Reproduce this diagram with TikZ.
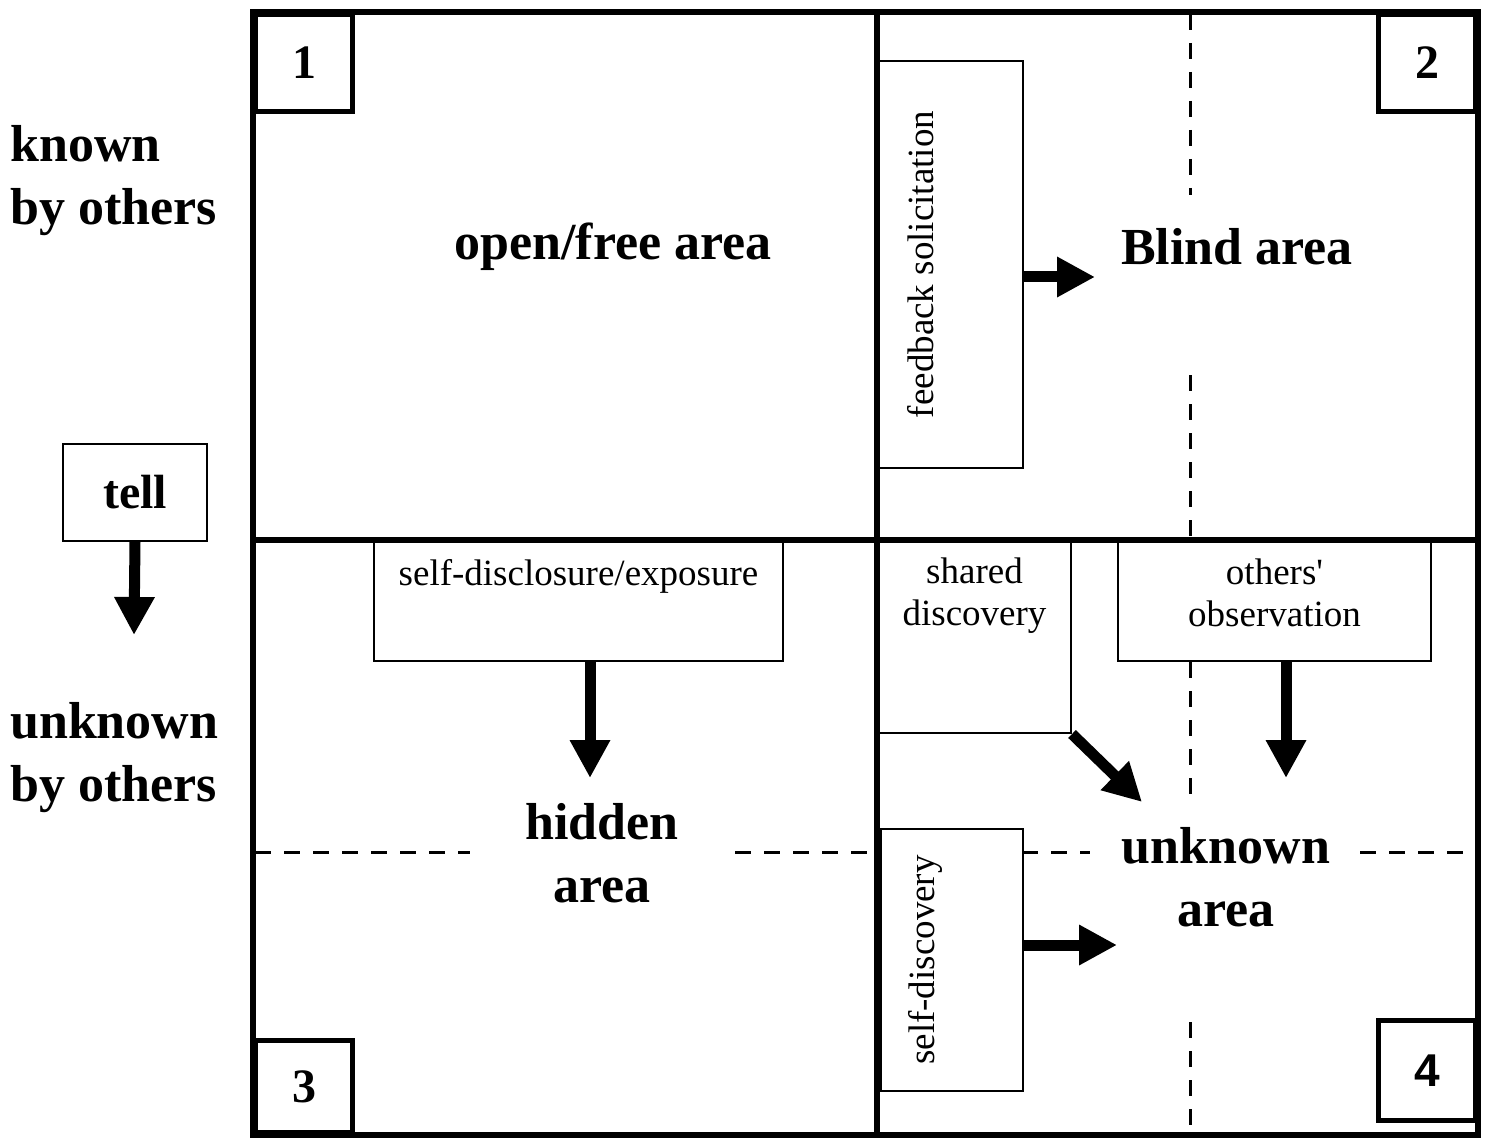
\documentclass[tikz,border=0pt]{standalone}
\usepackage{fontspec}
\setmainfont{Liberation Serif}
\newfontfamily\armfont{Liberation Sans}
\usetikzlibrary{arrows.meta,positioning,calc}
\tikzset{
  frameline/.style = {line width=6pt},
  numbox/.style = {draw, line width=5pt, minimum width=97pt, minimum height=97pt, inner sep=0pt, font=\fontsize{48}{48}\selectfont\bfseries},
  textbox/.style = {draw, line width=2pt, inner sep=0pt},
  smalltext/.style = {align=center, inner sep=0pt, font=\fontsize{37}{42}\selectfont},
  bigtext/.style = {align=center, inner sep=0pt, font=\fontsize{52}{63}\selectfont\bfseries},
  splitline/.style = {line width=3pt, dash pattern=on 16pt off 13pt},
  bigarrow/.style = {-{Triangle[length=38pt, width=38pt]}, line width=11pt},
}

\begin{document}
\begin{tikzpicture}[x=1pt, y=-1pt]
\useasboundingbox (0,0) rectangle (1487,1139);

% window frame
\draw[frameline] (253,12) rectangle (1478,1135);
\draw[frameline] (877,12) -- (877,1135);
\draw[frameline] (253,540) -- (1478,540);

% dashed split lines
\draw[splitline] (1190,14) -- (1190,195);
\draw[splitline] (1190,375) -- (1190,538);
\draw[splitline] (1190,662) -- (1190,805);
\draw[splitline] (1190,1022) -- (1190,1133);
\draw[splitline] (255,852) -- (470,852);
\draw[splitline] (735,852) -- (877,852);
\draw[splitline] (1022,852) -- (1090,852);
\draw[splitline] (1360,852) -- (1476,852);

% numbered corners
\node[numbox, anchor=north west] (one) at (253,12) {1};
\node[numbox, anchor=north east] (two) at (1478,12) {2};
\node[numbox, minimum height=92pt, anchor=south west] (three) at (253,1135) {3};
\node[numbox, minimum height=100pt, font=\fontsize{46}{46}\armfont\bfseries, anchor=north east] (four) at (1478,1018) {4};

% area names
\node[bigtext] (open) at (613,247) {open/free area};
\node[bigtext] (blind) at (1237,247) {Blind area};
\node[bigtext] (hidden) at (602,853) {hidden\\area};
\node[bigtext] (unknown) at (1226,877) {unknown\\area};

% side labels
\node[bigtext, align=left, anchor=west] (known) at (10,181) {known\\by others};
\node[bigtext, align=left, anchor=west] (unknownby) at (10,758) {unknown\\by others};
\node[draw, line width=2pt, minimum width=144pt, minimum height=97pt, inner sep=0pt,
      font=\fontsize{48}{48}\selectfont\bfseries, anchor=north west] (tell) at (62,443) {tell};
\coordinate (tellend) at (134,635);
\draw[bigarrow] (tell.south) -- (tellend);

% process boxes
\node[textbox, minimum width=144pt, minimum height=407pt, anchor=north west] (feedback) at (878,60) {};
\node[smalltext, rotate=90] (feedbacktxt) at ($(feedback.west)+(43,0)$) {feedback solicitation};
\node[textbox, minimum width=409pt, minimum height=120pt, anchor=north west] (disclose) at (373,540) {};
\node[smalltext, below=19pt of disclose.north] (disclosetxt) {self-disclosure/exposure};
\node[textbox, minimum width=193pt, minimum height=192pt, anchor=north west] (shared) at (877,540) {};
\node[smalltext, below=18pt of shared.north] (sharedtxt) {shared\\discovery};
\node[textbox, minimum width=313pt, minimum height=120pt, anchor=north west] (others) at (1117,540) {};
\node[smalltext, below=19pt of others.north] (otherstxt) {others\textquotesingle\\observation};
\node[textbox, minimum width=142pt, minimum height=262pt, anchor=north west] (selfdisc) at (880,828) {};
\node[smalltext, rotate=90] (selfdisctxt) at ($(selfdisc.west)+(45,0)$) {self-discovery};

% arrows
\coordinate (fbend) at (1095,277);
\coordinate (discend) at (590,778);
\coordinate (sharedend) at (1142,802);
\coordinate (othersend) at (1286,778);
\coordinate (selfend) at (1117,945);
\draw[bigarrow] (feedback.east |- fbend) -- (fbend);
\draw[bigarrow] (disclose.south -| discend) -- (discend);
\draw[bigarrow] (shared.south east) -- (sharedend);
\draw[bigarrow] (others.south -| othersend) -- (othersend);
\draw[bigarrow] (selfdisc.east |- selfend) -- (selfend);
\end{tikzpicture}
\end{document}
